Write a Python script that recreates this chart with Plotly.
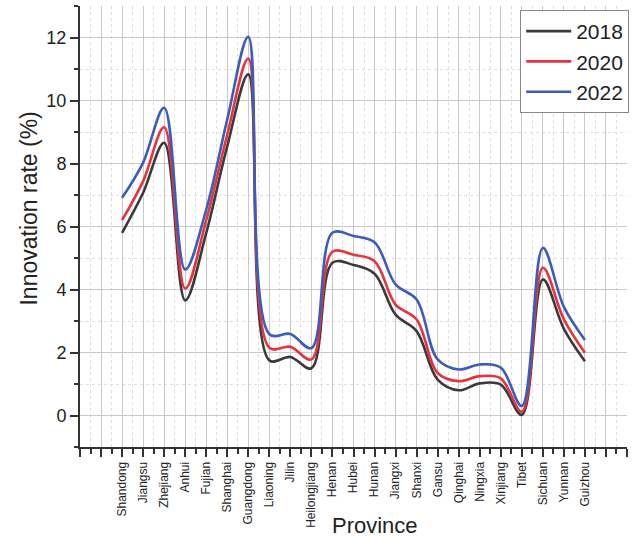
import plotly.graph_objects as go

provinces = ["Shandong", "Jiangsu", "Zhejiang", "Anhui", "Fujian", "Shanghai", "Guangdong",
             "Liaoning", "Jilin", "Heilongjiang", "Henan", "Hubei", "Hunan", "Jiangxi",
             "Shanxi", "Gansu", "Qinghai", "Ningxia", "Xinjiang", "Tibet", "Sichuan",
             "Yunnan", "Guizhou"]

rate_2018 = [5.80, 7.07, 8.66, 3.65, 5.80, 8.55, 10.83, 1.75, 1.86, 1.50, 4.85, 4.78, 4.50,
             3.20, 2.68, 1.14, 0.80, 1.02, 0.98, 0.02, 4.32, 2.75, 1.72]
rate_2020 = [6.20, 7.44, 9.15, 4.03, 6.20, 8.92, 11.33, 2.15, 2.18, 1.78, 5.20, 5.10, 4.90,
             3.52, 3.05, 1.35, 1.09, 1.25, 1.18, 0.12, 4.69, 3.05, 1.99]
rate_2022 = [6.91, 8.03, 9.77, 4.63, 6.54, 9.40, 12.02, 2.58, 2.59, 2.14, 5.80, 5.70, 5.50,
             4.16, 3.68, 1.78, 1.46, 1.62, 1.52, 0.30, 5.32, 3.45, 2.40]

years = ["2018", "2020", "2022"]
series = [rate_2018, rate_2020, rate_2022]
colors = ["#3a3a3a", "#e8333c", "#3a5cbf"]

x_idx = list(range(len(provinces)))

fig = go.Figure()
for name, vals, col in zip(years, series, colors):
    fig.add_trace(go.Scatter(
        x=x_idx, y=vals, name=name, mode="lines",
        line=dict(color=col, width=2.6, shape="spline", smoothing=1.0),
    ))

font_family = "Liberation Sans, Arial, sans-serif"
tickvals = list(range(-2, len(provinces) + 2))
ticktext = [provinces[v] if 0 <= v < len(provinces) else "" for v in tickvals]

axis_common = dict(
    showline=True, linecolor="#333333", linewidth=2,
    ticks="outside", ticklen=8, tickwidth=1.5, tickcolor="#333333",
    showgrid=True, gridcolor="#c9c9c9", gridwidth=1,
    zeroline=False, mirror=False, automargin=False,
)

fig.update_layout(
    width=638, height=537,
    margin=dict(l=80, r=11, t=6, b=90, autoexpand=False),
    paper_bgcolor="white", plot_bgcolor="white",
    font=dict(family=font_family, color="#222222"),
    showlegend=True,
    legend=dict(
        x=1.004, y=0.991, xanchor="right", yanchor="top",
        bgcolor="white", bordercolor="#888888", borderwidth=1,
        font=dict(size=21, color="#222222"),
        itemwidth=45, tracegroupgap=0,
    ),
    xaxis=dict(
        **axis_common,
        range=[-2, 24],
        tickmode="array", tickvals=tickvals, ticktext=ticktext,
        tickangle=-90, tickfont=dict(size=12),
        minor=dict(tickmode="linear", tick0=0.5, dtick=1, ticks="outside", ticklen=5,
                   tickwidth=1.5, tickcolor="#333333", showgrid=True,
                   gridcolor="#dedede", griddash="dot", gridwidth=1),
    ),
    yaxis=dict(
        **axis_common,
        range=[-1, 13], tickmode="linear", tick0=0, dtick=2,
        tickfont=dict(size=18),
        minor=dict(tickmode="linear", tick0=1, dtick=2, ticks="outside", ticklen=4,
                   tickwidth=1.5, tickcolor="#333333", showgrid=True,
                   gridcolor="#dedede", griddash="dot", gridwidth=1),
    ),
    annotations=[
        dict(text="Province", xref="paper", yref="paper", x=0.539, y=-0.178,
             xanchor="center", yanchor="middle", showarrow=False,
             font=dict(size=22, color="#222222")),
        dict(text="Innovation rate (%)", xref="paper", yref="paper", x=-0.093, y=0.541,
             xanchor="center", yanchor="middle", showarrow=False, textangle=-90,
             font=dict(size=23, color="#222222")),
    ],
)

fig.write_html("out.html", config={"displayModeBar": False},
               post_script="document.body.style.margin='0px';document.body.style.padding='0px';")
